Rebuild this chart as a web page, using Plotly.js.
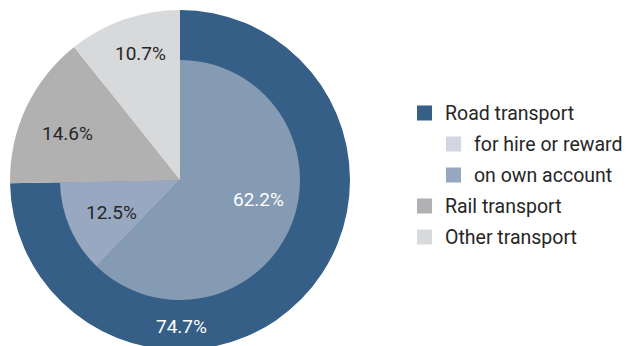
<!DOCTYPE html>
<html><head><meta charset="utf-8">
<script src="https://cdn.plot.ly/plotly-3.0.1.min.js"></script>
<style>html,body{margin:0;padding:0;overflow:hidden;background:#fff}#chart{width:631px;height:360px}</style>
</head><body><div id="chart"></div>
<script>
// Data
const outerLabels = ["Road transport", "Rail transport", "Other transport"];
const outerValues = [74.7, 14.6, 10.7];
const outerColors = ["#355f86", "#b1b1b2", "#d8d9db"];

const innerLabels = ["for hire or reward", "on own account", "Rail transport", "Other transport"];
const innerValues = [62.2, 12.5, 14.6, 10.7];
const innerColors = ["#849bb3", "#98a8c0", "#b1b1b2", "#d8d9db"];

const legendLabels = ["Road transport", "for hire or reward", "on own account", "Rail transport", "Other transport"];
const legendColors = ["#355f86", "#d3d6e0", "#97a7bf", "#b0b0b2", "#d9dadc"];
const legendIndent = [0, 1, 1, 0, 0];

// Value labels: value, text colour, and placement (pixels) - layout only
const valueLabels = [
  {v: outerValues[0], c: "#ffffff", x: 181, y: 326},
  {v: innerValues[0], c: "#ffffff", x: 258, y: 199},
  {v: innerValues[1], c: "#262626", x: 111, y: 212},
  {v: innerValues[2], c: "#262626", x: 67,  y: 133},
  {v: innerValues[3], c: "#262626", x: 140, y: 53}
];

const W = 631, H = 360;
const px = x => x / W, py = y => 1 - y / H;
const FONT = "Roboto, 'Open Sans', sans-serif";

const traces = [
  {
    type: "pie", labels: outerLabels, values: outerValues, sort: false,
    direction: "clockwise", rotation: 0,
    marker: {colors: outerColors, line: {width: 0}},
    textinfo: "none", hoverinfo: "label+value", showlegend: false,
    domain: {x: [px(10), px(350)], y: [py(350), py(10)]}
  },
  {
    type: "pie", labels: innerLabels, values: innerValues, sort: false,
    direction: "clockwise", rotation: 0,
    marker: {colors: innerColors, line: {width: 0}},
    textinfo: "none", hoverinfo: "label+value", showlegend: false,
    domain: {x: [px(60), px(300)], y: [py(300), py(60)]}
  }
];

const shapes = [], annotations = [];
legendLabels.forEach((lab, i) => {
  const cy = 113 + i * 31;
  const x0 = 417 + legendIndent[i] * 29;
  shapes.push({type: "rect", xref: "paper", yref: "paper",
    x0: px(x0), x1: px(x0 + 15), y0: py(cy + 7.5), y1: py(cy - 7.5),
    fillcolor: legendColors[i], line: {width: 0}});
  annotations.push({xref: "paper", yref: "paper", x: px(x0 + 26), y: py(cy),
    xanchor: "left", yanchor: "middle", showarrow: false, text: lab,
    font: {family: FONT, size: 19.5, color: "#262626"}});
});
valueLabels.forEach(l => {
  annotations.push({xref: "paper", yref: "paper", x: px(l.x), y: py(l.y),
    xanchor: "center", yanchor: "middle", showarrow: false,
    text: l.v.toFixed(1) + "%", font: {family: FONT, size: 19, color: l.c}});
});

Plotly.newPlot("chart", traces, {
  width: W, height: H, margin: {l: 0, r: 0, t: 0, b: 0},
  paper_bgcolor: "#fff", shapes, annotations, showlegend: false
}, {displayModeBar: false, staticPlot: true});
</script></body></html>
